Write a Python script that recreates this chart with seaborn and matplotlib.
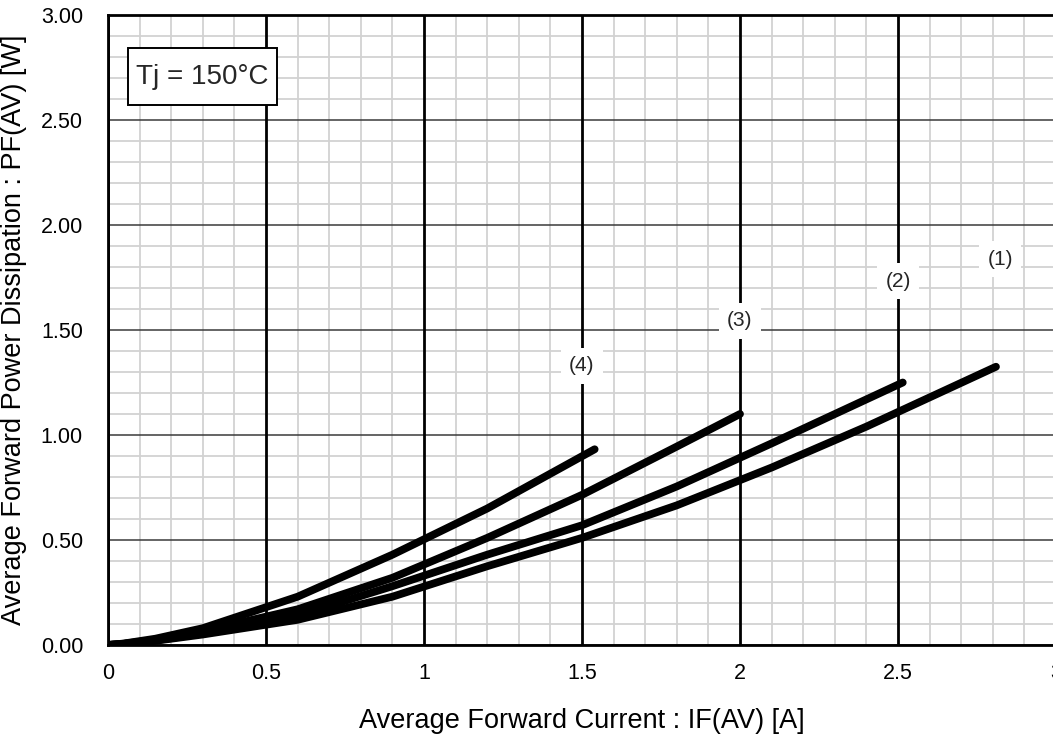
import numpy as np
import pandas as pd
import matplotlib
matplotlib.use("Agg")
import matplotlib.pyplot as plt
from matplotlib.ticker import MultipleLocator, FormatStrFormatter
from matplotlib.patches import Rectangle
import seaborn as sns

# ---- data ----
curve_labels = ["(1)", "(2)", "(3)", "(4)"]
x1 = [0, 0.05, 0.15, 0.3, 0.6, 0.9, 1.2, 1.5, 1.8, 2.1, 2.4, 2.81]
y1 = [0, 0.005, 0.02, 0.05, 0.12, 0.23, 0.375, 0.51, 0.665, 0.845, 1.04, 1.325]
x2 = [0, 0.05, 0.15, 0.3, 0.6, 0.9, 1.2, 1.5, 1.8, 2.1, 2.515]
y2 = [0, 0.005, 0.022, 0.055, 0.14, 0.28, 0.43, 0.57, 0.755, 0.96, 1.25]
x3 = [0, 0.05, 0.15, 0.3, 0.6, 0.9, 1.2, 1.5, 1.8, 2.0]
y3 = [0, 0.006, 0.025, 0.065, 0.17, 0.32, 0.51, 0.715, 0.945, 1.10]
x4 = [0, 0.05, 0.15, 0.3, 0.6, 0.9, 1.2, 1.54]
y4 = [0, 0.007, 0.03, 0.08, 0.23, 0.43, 0.65, 0.932]
label_x = [2.823, 2.5, 2.0, 1.5]
label_y = [1.838, 1.733, 1.543, 1.33]
x_ticks = [0, 0.5, 1, 1.5, 2, 2.5, 3]
x_tick_labels = ["0", "0.5", "1", "1.5", "2", "2.5", "3"]
y_ticks = [0, 0.5, 1.0, 1.5, 2.0, 2.5, 3.0]
annotation = "Tj = 150°C"
x_title = "Average Forward Current : IF(AV) [A]"
y_title = "Average Forward Power Dissipation : PF(AV) [W]"

sns.set_theme(style="white")
plt.rcParams["font.family"] = ["Liberation Sans", "DejaVu Sans"]

df = pd.concat([
    pd.DataFrame({"x": xs, "y": ys, "curve": lab})
    for xs, ys, lab in zip([x1, x2, x3, x4], [y1, y2, y3, y4], curve_labels)
], ignore_index=True)

fig = plt.figure(figsize=(10.53, 7.36), dpi=100)
ax = fig.add_axes([108 / 1053, 91 / 736, 948 / 1053, 630 / 736])

ax.set_xlim(0, 3)
ax.set_ylim(0, 3)

# minor grid
ax.xaxis.set_minor_locator(MultipleLocator(0.1))
ax.yaxis.set_minor_locator(MultipleLocator(0.1))
ax.grid(which="minor", color="#d2d2d2", lw=1.3, zorder=0)
ax.grid(which="major", visible=False)
ax.set_axisbelow(True)
# major grid lines drawn above minor grid
ax.hlines(y_ticks, 0, 3, color="#3a3a3a", lw=1.1, zorder=1)
ax.vlines(x_ticks, 0, 3, color="black", lw=2.0, zorder=2)

for lab in curve_labels:
    sub = df[df["curve"] == lab]
    sns.lineplot(data=sub, x="x", y="y", ax=ax, color="black", lw=5.6,
                 sort=False, estimator=None, solid_capstyle="round", zorder=5)

for lx, ly, lab in zip(label_x, label_y, curve_labels):
    ax.text(lx, ly, lab, ha="center", va="center", fontsize=15, zorder=6,
            bbox=dict(boxstyle="square,pad=0.4", fc="white", ec="none"))

ax.add_patch(Rectangle((20 / 948, 540 / 630), 149 / 948, 57 / 630,
                       transform=ax.transAxes, fc="white", ec="black",
                       lw=1.4, zorder=7))
ax.text(0.299, 2.707, annotation, ha="center", va="center", fontsize=20, zorder=8)

ax.set_xticks(x_ticks)
ax.set_xticklabels(x_tick_labels)
ax.set_yticks(y_ticks)
ax.yaxis.set_major_formatter(FormatStrFormatter("%.2f"))
ax.tick_params(which="both", length=0, labelsize=15.5, colors="black")
ax.tick_params(axis="x", pad=13)
ax.tick_params(axis="y", pad=18)

ax.set_xlabel(x_title, fontsize=19.5, labelpad=17, color="black")
ax.set_ylabel(y_title, fontsize=19.5, labelpad=10, color="black")

for s in ["left", "bottom", "top", "right"]:
    ax.spines[s].set_visible(True)
    ax.spines[s].set_color("black")
    ax.spines[s].set_linewidth(2.0)
    ax.spines[s].set_zorder(9)

fig.savefig("out.png", dpi=100)
